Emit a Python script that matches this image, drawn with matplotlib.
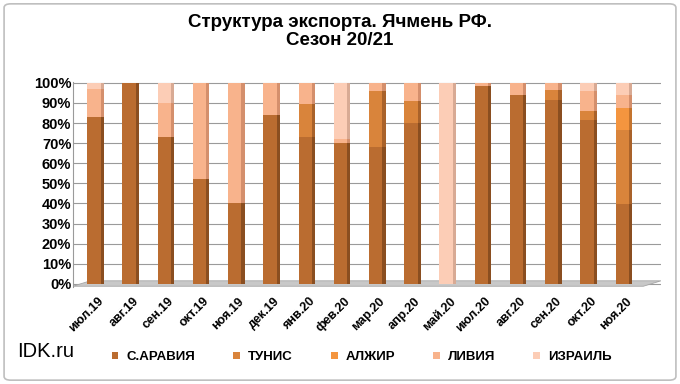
import numpy as np
import matplotlib.pyplot as plt
from matplotlib.patches import FancyBboxPatch, Polygon

plt.rcParams['font.family'] = ['Liberation Sans', 'DejaVu Sans']

months = ['июл.19', 'авг.19', 'сен.19', 'окт.19', 'ноя.19', 'дек.19', 'янв.20', 'фев.20',
          'мар.20', 'апр.20', 'май.20', 'июл.20', 'авг.20', 'сен.20', 'окт.20', 'ноя.20']

# доли, %
saudi   = [83, 100, 73, 52, 40, 84, 73, 70, 68, 80, 0, 98.5, 94, 91.5, 81.5, 39.5]
tunisia = [0, 0, 0, 0, 0, 0, 16.5, 0, 28, 11, 0, 0, 0, 5, 4.5, 37]
algeria = [0, 0, 0, 0, 0, 0, 0, 0, 0, 0, 0, 0, 0, 0, 0, 11]
libya   = [14, 0, 17, 48, 60, 16, 10.5, 2, 4, 9, 0, 1.5, 6, 3.5, 10, 6.5]
israel  = [3, 0, 10, 0, 0, 0, 0, 28, 0, 0, 100, 0, 0, 0, 4, 6]

names = ['С.АРАВИЯ', 'ТУНИС', 'АЛЖИР', 'ЛИВИЯ', 'ИЗРАИЛЬ']
series = [saudi, tunisia, algeria, libya, israel]
colors = ['#BA6C30', '#D9843B', '#F4953F', '#F8B38C', '#FCCDB6']
side_colors = ['#8A4E20', '#A9622A', '#C4742E', '#D48F6C', '#D8AA94']

fig = plt.figure(figsize=(6.8, 3.84), dpi=100)
fig.patches.append(FancyBboxPatch((0.006, 0.01), 0.988, 0.98, boxstyle='round,pad=0,rounding_size=0.01',
                                  transform=fig.transFigure, facecolor='white',
                                  edgecolor='#BFBFBF', linewidth=1.2, zorder=-1))

ax = fig.add_axes([0.107, 0.253, 0.865, 0.534])
x = np.arange(len(months))
w = 0.38
bottom = np.zeros(len(months))
for name, vals, c, sc in zip(names, series, colors, side_colors):
    vals = np.array(vals, dtype=float)
    ax.bar(x, vals, w, bottom=bottom, color=c, label=name, zorder=3)
    ax.bar(x + w / 2 + 0.045, vals, 0.09, bottom=bottom, color=sc, zorder=3)
    bottom += vals

# пол
floor = Polygon([[-0.6, -1.2], [15.6, -1.2], [16.1, 1.5], [-0.1, 1.5]],
                closed=True, facecolor='#C8C8C8', edgecolor='#A6A6A6', lw=0.6, zorder=2)
ax.add_patch(floor)

ax.set_xlim(-0.6, 16.1)
ax.set_ylim(-1.5, 100.5)
ax.set_yticks(np.arange(0, 101, 10))
ax.set_yticklabels([f'{v}%' for v in range(0, 101, 10)], fontsize=10.5, fontweight='bold')
ax.yaxis.grid(True, color='#9A9A9A', lw=0.8, zorder=0)
ax.set_xticks(x + 0.1)
ax.set_xticklabels(months, rotation=45, ha='right', rotation_mode='anchor',
                   fontsize=9, fontweight='bold')
ax.tick_params(axis='x', length=0, pad=6)
ax.tick_params(axis='y', length=0, pad=1)
for s in ['top', 'right', 'bottom']:
    ax.spines[s].set_visible(False)
ax.spines['left'].set_color('#9A9A9A')

fig.suptitle('Структура экспорта. Ячмень РФ.\nСезон 20/21', fontsize=13.5, fontweight='bold',
             y=0.963, x=0.5, linespacing=1.05)

handles, labels = ax.get_legend_handles_labels()
fig.legend(handles, labels, loc='center', bbox_to_anchor=(0.532, 0.07), ncol=5, frameon=False,
           prop={'weight': 'bold', 'size': 9.5},
           handlelength=0.5, handleheight=0.5, columnspacing=2.9, handletextpad=0.6)
fig.text(0.025, 0.085, 'IDK.ru', fontsize=14.5, va='center')

fig.savefig('out.png', dpi=100)
